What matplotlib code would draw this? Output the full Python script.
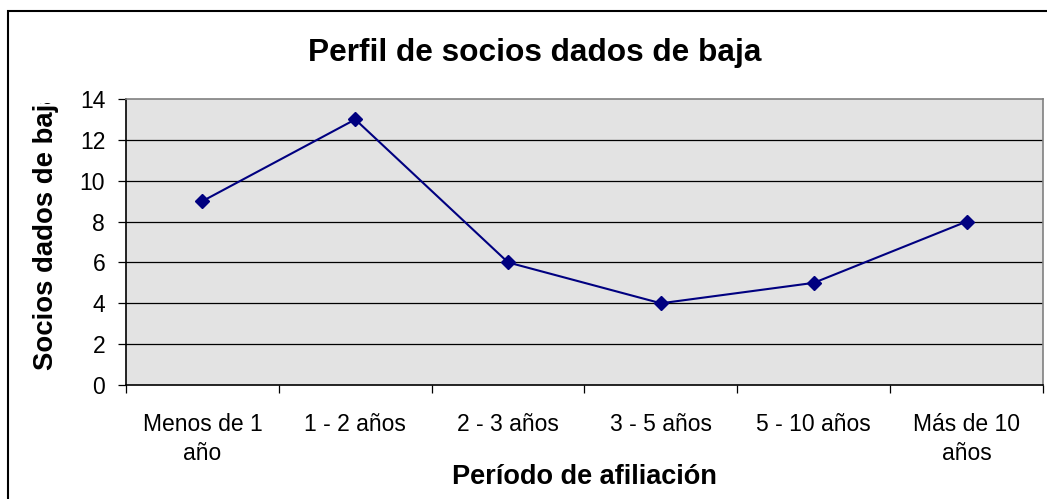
import matplotlib
matplotlib.use("Agg")
import matplotlib.pyplot as plt
from matplotlib.patches import Rectangle
from matplotlib.transforms import Bbox

categories = ["Menos de 1\naño", "1 - 2 años", "2 - 3 años", "3 - 5 años", "5 - 10 años", "Más de 10\naños"]
values = [9, 13, 6, 4, 5, 8]
yticks = [0, 2, 4, 6, 8, 10, 12, 14]

plt.rcParams['font.family'] = ['Liberation Sans', 'DejaVu Sans']

W, H = 1047, 499
fig = plt.figure(figsize=(W / 100, H / 100), dpi=100)
fig.patch.set_facecolor("white")

# outer chart border
fig.patches.append(Rectangle((8 / W, -0.1), 1.2, (H - 11) / H + 0.1, transform=fig.transFigure,
                             fill=False, edgecolor="black", linewidth=1.5))

L, R, T, B = 126, 1043, 99, 385
ax = fig.add_axes([L / W, (H - B) / H, (R - L) / W, (B - T) / H])
ax.set_facecolor("#E3E3E3")

x = list(range(len(categories)))
ax.plot(x, values, color="#000080", linewidth=1.5, marker="D", markersize=7.5,
        markerfacecolor="#000080", markeredgecolor="#000080", zorder=3)

ax.set_xlim(-0.5, len(categories) - 0.5)
ax.set_ylim(0, 14)
ax.set_yticks(yticks)
ax.set_yticklabels([str(v) for v in yticks], fontsize=16.5)
for v in yticks[1:-1]:
    ax.axhline(v, color="black", linewidth=0.9, zorder=1)

ax.set_xticks([i - 0.5 for i in range(len(categories) + 1)])
ax.set_xticklabels([])
ax.set_xticks(x, minor=True)
ax.set_xticklabels(categories, minor=True, fontsize=16.5, linespacing=1.35)
ax.tick_params(axis="x", which="minor", length=0, pad=20)
ax.tick_params(axis="x", which="major", length=6, width=0.9, direction="out")
ax.tick_params(axis="y", length=6, width=0.9, direction="out", pad=9)

ax.spines["left"].set_color("black")
ax.spines["bottom"].set_color("black")
ax.spines["top"].set_color("#808080")
ax.spines["right"].set_color("#808080")
for s in ax.spines.values():
    s.set_linewidth(1.2)

fig.text(535 / W, 1 - 61 / H, "Perfil de socios dados de baja", ha="center", va="baseline",
         fontsize=22.8, fontweight="bold")
fig.text((L + R) / 2 / W, 1 - 484 / H, "Período de afiliación", ha="center", va="baseline",
         fontsize=19.5, fontweight="bold")

yl = fig.text(46 / W, 1 - 370 / H, "Socios dados de baja", ha="center", va="bottom",
              rotation=90, fontsize=19.8, fontweight="bold")
clip = Bbox.from_extents(0, 0, 120, H - 103)
yl.set_clip_box(clip)
yl.set_clip_on(True)

fig.savefig("out.png", dpi=100)
